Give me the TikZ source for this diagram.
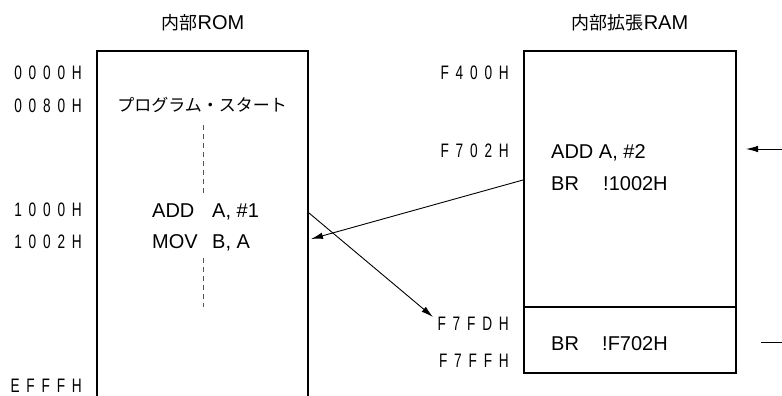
\documentclass[tikz,border=0pt]{standalone}
\usepackage{fontspec}
\setmainfont{Liberation Sans}
\newfontfamily\jpfont{Noto Sans CJK JP}
\newfontfamily\addrfont{Liberation Sans}[FakeStretch=0.7,LetterSpace=35]
\usetikzlibrary{arrows.meta,positioning,calc}
\definecolor{Ink}{HTML}{000000}
\definecolor{Guide}{HTML}{555555}
\tikzset{
  >={Latex[length=12pt,width=6.5pt]},
  membox/.style={draw=Ink,line width=2.3pt,line join=miter},
  divider/.style={draw=Ink,line width=1.2pt},
  addr/.style={anchor=base east,inner sep=0pt,font=\addrfont\fontsize{19.5}{22}\selectfont},
  codeline/.style={anchor=base west,inner sep=0pt,font=\fontsize{20}{24}\selectfont},
  memtitle/.style={anchor=base,inner sep=0pt,font=\fontsize{20}{24}\selectfont},
  jptext/.style={anchor=base,inner sep=0pt,font=\jpfont\fontsize{17}{20}\selectfont},
  jump/.style={->,line width=.9pt,draw=Ink},
  guide/.style={draw=Guide,line width=1pt,dash pattern=on 5pt off 4pt}
}
\begin{document}
\begin{tikzpicture}[x=1pt,y=-1pt]
  \useasboundingbox (0,0) rectangle (782,396);
  \node[memtitle] (romtitle) at (203,30) {{\jpfont\fontsize{18}{20}\selectfont 内部}ROM};
  \node[memtitle] (ramtitle) at (630,30) {{\jpfont\fontsize{18}{20}\selectfont 内部拡張}RAM};
  \draw[membox] (97,400) -- (97,51) -- (308,51) -- (308,400);
  \node[membox,minimum width=212pt,minimum height=322pt,inner sep=0pt] (ram) at (630,212) {};
  \draw[divider] (ram.west |- 0,307) -- (ram.east |- 0,307);
  \node[addr] (a0000) at (82,80) {0000H};
  \node[addr] (a0080) at (82,112) {0080H};
  \node[addr] (a1000) at (82,216) {1000H};
  \node[addr] (a1002) at (82,248) {1002H};
  \node[addr] (aefff) at (82,392) {EFFFH};
  \node[addr] (af400) at (509,80) {F400H};
  \node[addr] (af702) at (509,157) {F702H};
  \node[addr] (af7fd) at (509,330) {F7FDH};
  \node[addr] (af7ff) at (509,367) {F7FFH};
  \node[jptext] (start) at (202,111) {プログラム・スタート};
  \coordinate (gtop1) at (203,125);
  \coordinate (gbot1) at (203,193);
  \coordinate (gtop2) at (203,258);
  \coordinate (gbot2) at (203,307);
  \draw[guide] (gtop1) -- (gbot1);
  \draw[guide] (gtop2) -- (gbot2);
  \node[codeline] (addop) at (152,217) {ADD};
  \node[codeline] (addarg) at (212,217) {A, \#1};
  \node[codeline] (movop) at (152,248) {MOV};
  \node[codeline] (movarg) at (212,248) {B, A};
  \node[codeline] (addtwo) at (551,158) {ADD A, \#2};
  \node[codeline] (brop) at (551,190) {BR};
  \node[codeline] (brarg) at (603,190) {!1002H};
  \node[codeline] (vecop) at (551,350) {BR};
  \node[codeline] (vecarg) at (602,350) {!F702H};
  \coordinate (brout) at (523,180);
  \coordinate (brin) at (311,239);
  \coordinate (callout) at (309,213);
  \coordinate (callin) at (433,317);
  \coordinate (retsrc) at (782,149);
  \coordinate (retdst) at (746,149);
  \coordinate (tailsrc) at (761,342);
  \coordinate (taildst) at (782,342);
  \draw[jump] (brout) -- (brin);
  \draw[jump] (callout) -- (callin);
  \draw[jump] (retsrc) -- (retdst);
  \draw[jump,-] (tailsrc) -- (taildst);
\end{tikzpicture}
\end{document}
